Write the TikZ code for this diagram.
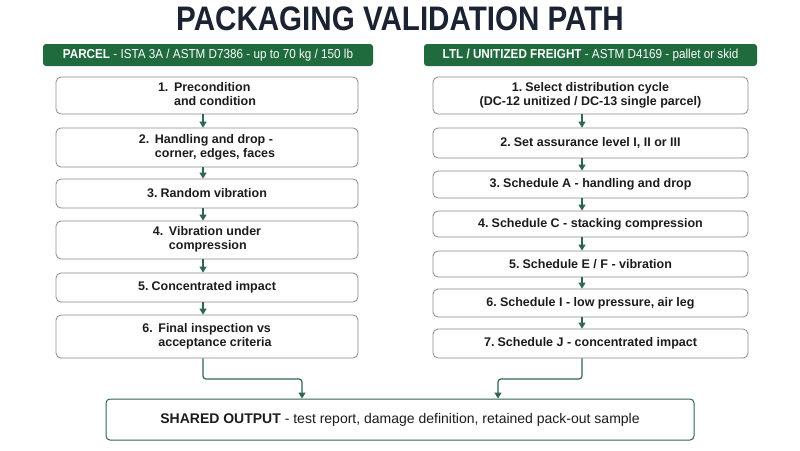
\documentclass[tikz,border=0pt]{standalone}
\usepackage{fontspec}
\setmainfont{Liberation Sans}
\newfontfamily\titlefont[FakeStretch=0.87]{Liberation Sans}
\newfontfamily\headfont[FakeStretch=0.9]{Liberation Sans}
\usetikzlibrary{arrows.meta}
\definecolor{navy}{HTML}{1B2333}
\definecolor{hgreen}{HTML}{1F6B3E}
\definecolor{cgreen}{HTML}{2F6650}
\definecolor{bgray}{HTML}{8A8A8A}
\definecolor{tdark}{HTML}{1C1C1C}
\tikzset{
  hdr/.style={fill=hgreen, rounded corners=3pt, inner sep=0pt, minimum height=22pt, text=white, font=\headfont\fontsize{13}{14}\selectfont},
  stepbox/.style={draw=bgray, line width=0.8pt, rounded corners=5pt, fill=white, inner sep=0pt, align=center, text=tdark, font=\bfseries\fontsize{12.5}{14}\selectfont},
  lbox/.style={stepbox, minimum width=302pt},
  rbox/.style={stepbox, minimum width=315pt},
  arr/.style={draw=cgreen, line width=1.2pt, -{Triangle[width=7pt,length=6pt]}},
  conn/.style={arr, rounded corners=3pt},
  shared/.style={draw=cgreen, line width=1pt, rounded corners=4pt, fill=white, inner sep=0pt, minimum width=588pt, minimum height=41pt, text=tdark, font=\fontsize{14}{16}\selectfont}
}
\newcommand{\nsp}{\hspace{0.25em}}
\newcommand{\twoline}[3]{\renewcommand{\arraystretch}{1.0}\begin{tabular}{@{}l@{\hspace{0.45em}}l@{}}#1&#2\\&#3\end{tabular}}
\begin{document}
\begin{tikzpicture}[x=1pt,y=-1pt]
\useasboundingbox[fill=white] (0,0) rectangle (800,450);
\node[text=navy, font=\titlefont\bfseries\fontsize{34}{36}\selectfont] (title) at (400,19) {PACKAGING VALIDATION PATH};

\node[hdr, minimum width=330pt] (hl) at (208,55) {\textbf{PARCEL} - ISTA 3A / ASTM D7386 - up to 70 kg / 150 lb};
\node[hdr, minimum width=333pt] (hr) at (590.5,55) {\textbf{LTL / UNITIZED FREIGHT} - ASTM D4169 - pallet or skid};

% left column
\node[lbox, minimum height=37pt] (L1) at (207,95.5) {\twoline{1.}{Precondition}{and condition}};
\node[lbox, minimum height=39pt] (L2) at (207,147.5) {\twoline{2.}{Handling and drop -}{corner, edges, faces}};
\node[lbox, minimum height=29pt] (L3) at (207,193.5) {3.\nsp Random vibration};
\node[lbox, minimum height=38pt] (L4) at (207,240) {\twoline{4.}{Vibration under}{compression}};
\node[lbox, minimum height=29pt] (L5) at (207,287.5) {5.\nsp Concentrated impact};
\node[lbox, minimum height=43pt] (L6) at (207,336.5) {\twoline{6.}{Final inspection vs}{acceptance criteria}};

% right column
\node[rbox, minimum height=37pt] (R1) at (590.5,95.5) {1.\nsp Select distribution cycle\\(DC-12 unitized / DC-13 single parcel)};
\node[rbox, minimum height=30pt] (R2) at (590.5,143) {2.\nsp Set assurance level I, II or III};
\node[rbox, minimum height=27pt] (R3) at (590.5,184.5) {3.\nsp Schedule A - handling and drop};
\node[rbox, minimum height=26pt] (R4) at (590.5,224) {4.\nsp Schedule C - stacking compression};
\node[rbox, minimum height=26pt] (R5) at (590.5,264) {5.\nsp Schedule E / F - vibration};
\node[rbox, minimum height=28pt] (R6) at (590.5,303) {6.\nsp Schedule I - low pressure, air leg};
\node[rbox, minimum height=29pt] (R7) at (590.5,343.5) {7.\nsp Schedule J - concentrated impact};

\node[shared] (S) at (400,419.5) {\textbf{SHARED OUTPUT} - test report, damage definition, retained pack-out sample};

\coordinate (axL) at (203,0);
\coordinate (axR) at (582,0);
\coordinate (inL) at (302,0);
\coordinate (inR) at (498,0);
\coordinate (mid) at (0,379);

\foreach \a/\b in {L1/L2,L2/L3,L3/L4,L4/L5,L5/L6}
  \draw[arr] (\a.south -| axL) -- (\b.north -| axL);
\foreach \a/\b in {R1/R2,R2/R3,R3/R4,R4/R5,R5/R6,R6/R7}
  \draw[arr] (\a.south -| axR) -- (\b.north -| axR);

\draw[conn] (L6.south -| axL) -- (mid -| axL) -- (mid -| inL) -- (S.north -| inL);
\draw[conn] (R7.south -| axR) -- (mid -| axR) -- (mid -| inR) -- (S.north -| inR);
\end{tikzpicture}
\end{document}
